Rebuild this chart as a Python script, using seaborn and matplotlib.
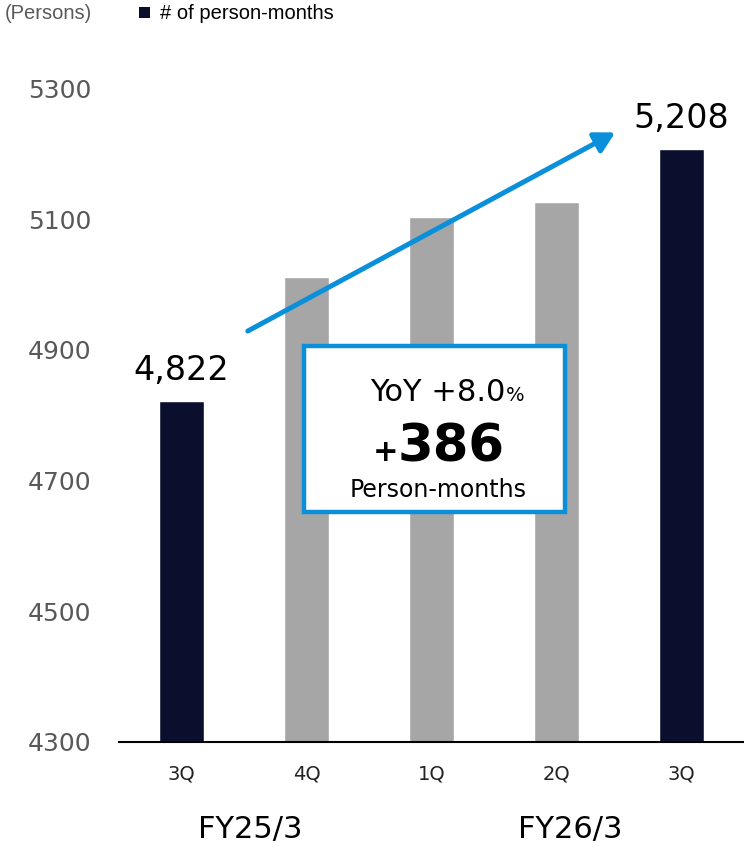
import matplotlib
matplotlib.use("Agg")
import matplotlib.pyplot as plt
from matplotlib.patches import Rectangle
import seaborn as sns
import pandas as pd

# Quarterly person-months
periods = ["FY25/3 3Q", "FY25/3 4Q", "FY26/3 1Q", "FY26/3 2Q", "FY26/3 3Q"]
quarters = ["3Q", "4Q", "1Q", "2Q", "3Q"]
values = [4822, 5011, 5104, 5127, 5208]
highlight = [True, False, False, False, True]
fiscal_years = ["FY25/3", "FY26/3"]
yticks = [4300, 4500, 4700, 4900, 5100, 5300]
yoy_pct = "+8.0"
yoy_diff = "386"

NAVY = "#0a0f2e"
GREY = "#a6a6a6"
BLUE = "#0a90da"

sns.set_theme(style="white")
plt.rcParams["font.family"] = ["DejaVu Sans"]

W, H = 744, 846
fig = plt.figure(figsize=(W / 100, H / 100), dpi=100)
ax = fig.add_axes([119 / W, 1 - 742 / H, 625 / W, (742 - 56) / H])


def px(x, y):
    """Pixel position (from top-left) to figure fraction."""
    return x / W, 1 - y / H


df = pd.DataFrame({"period": periods, "value": values,
                   "kind": ["key" if h else "other" for h in highlight]})
sns.barplot(data=df, x="period", y="value", hue="kind", order=periods,
            palette={"key": NAVY, "other": GREY}, width=0.36,
            dodge=False, legend=False, saturation=1, ax=ax)

ax.set_xlim(-0.5, 4.5)
ax.set_ylim(4300, 5350)
ax.set_yticks(yticks)
ax.set_yticklabels([str(t) for t in yticks], fontsize=18, color="#595959")
ax.set_xticks(range(len(quarters)))
ax.set_xticklabels(quarters, fontsize=14, color="#222222")
ax.tick_params(axis="x", length=0, pad=16)
ax.tick_params(axis="y", length=0, pad=20)
ax.set_xlabel("")
ax.set_ylabel("")
for side in ["top", "right", "left"]:
    ax.spines[side].set_visible(False)
ax.spines["bottom"].set_color("black")
ax.spines["bottom"].set_linewidth(1.5)
ax.grid(False)

# Value labels on the highlighted bars
for i, (v, h) in enumerate(zip(values, highlight)):
    if h:
        ax.annotate(f"{v:,}", xy=(i, v), xytext=(0, 15), textcoords="offset points",
                    ha="center", va="baseline", fontsize=24, color="black")

# Fiscal-year group labels
fig.text(*px(250, 838), fiscal_years[0], ha="center", va="baseline", fontsize=22, color="black")
fig.text(*px(570, 838), fiscal_years[1], ha="center", va="baseline", fontsize=22, color="black")

# Growth arrow
ax.annotate("", xy=(3.47, 5233), xytext=(0.53, 4929),
            arrowprops=dict(arrowstyle="-|>,head_length=1.0,head_width=0.55",
                            color=BLUE, lw=3.6, shrinkA=0, shrinkB=0))

# YoY callout box
x0, y0 = px(304, 512)
x1, y1 = px(565, 346)
fig.patches.append(Rectangle((x0, y0), x1 - x0, y1 - y0, transform=fig.transFigure,
                             facecolor="white", edgecolor=BLUE, linewidth=3.2, zorder=5))
fig.text(*px(505, 401), f"YoY {yoy_pct}", ha="right", va="baseline", fontsize=22,
         color="black", zorder=6)
fig.text(*px(506, 401), "%", ha="left", va="baseline", fontsize=14, color="black", zorder=6)
fig.text(*px(398, 461), "+", ha="right", va="baseline", fontsize=22, fontweight="bold",
         color="black", zorder=6)
fig.text(*px(398, 461), yoy_diff, ha="left", va="baseline", fontsize=37, fontweight="bold",
         color="black", zorder=6)
fig.text(*px(438, 497), "Person-months", ha="center", va="baseline", fontsize=17,
         color="black", zorder=6)

# Header: unit and legend
fig.text(*px(5, 19), "(Persons)", ha="left", va="baseline", fontsize=14.5,
         color="#595959", family="Liberation Sans")
lx0, ly0 = px(139, 18)
fig.patches.append(Rectangle((lx0, ly0), 11 / W, 11 / H, transform=fig.transFigure,
                             facecolor=NAVY, edgecolor="none"))
fig.text(*px(160, 19), "# of person-months", ha="left", va="baseline", fontsize=14.5,
         color="black", family="Liberation Sans")

fig.savefig("out.png", dpi=100)
